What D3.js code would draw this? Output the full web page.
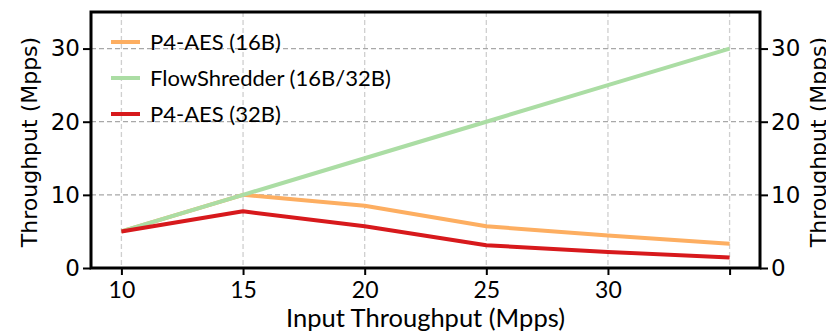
<!DOCTYPE html>
<html>
<head>
<meta charset="utf-8">
<script src="https://cdn.jsdelivr.net/npm/d3@7"></script>
<style>
  body { margin: 0; background: #fff; }
  svg { display: block; }
</style>
</head>
<body>
<div id="chart"></div>
<script>
// Throughput vs input throughput, three series

const inputRates = [10, 15, 20, 25, 30, 35];
const aes16 = [5, 10, 8.5, 5.7, 4.45, 3.3];
const flowShredder = [5, 10, 15, 20, 25, 30];
const aes32 = [5, 7.75, 5.7, 3.1, 2.2, 1.45];

const xTicks = [10, 15, 20, 25, 30, 35];
const xTickLabels = ["10", "15", "20", "25", "30", ""];
const yTicks = [0, 10, 20, 30];

const seriesNames = ["P4-AES (16B)", "FlowShredder (16B/32B)", "P4-AES (32B)"];
const seriesColors = ["#fdae61", "#abdda4", "#d7191c"];

const [w, h] = [826, 336];
const [padL, padR, padT, padB] = [91, 760, 12, 268];

const gillFont = "Lato, 'Open Sans', sans-serif";
const dejaFont = "'DejaVu Sans', sans-serif";

const xScale = d3.scaleLinear().domain([8.75, 36.25]).range([padL, padR]);
const yScale = d3.scaleLinear().domain([0, 35]).range([padB, padT]);

const svg = d3.select("#chart").append("svg")
  .attr("width", w)
  .attr("height", h);

// grid
svg.append("g").selectAll("line")
  .data(xTicks).enter().append("line")
  .attr("x1", d => xScale(d)).attr("x2", d => xScale(d))
  .attr("y1", padT).attr("y2", padB)
  .attr("stroke", "#cfcfcf").attr("stroke-width", 1.3)
  .attr("stroke-dasharray", "5,3");

svg.append("g").selectAll("line")
  .data(yTicks.slice(1)).enter().append("line")
  .attr("x1", padL).attr("x2", padR)
  .attr("y1", d => yScale(d)).attr("y2", d => yScale(d))
  .attr("stroke", "#a8a8a8").attr("stroke-width", 1.3)
  .attr("stroke-dasharray", "5,3");

// lines
const series = [aes16, flowShredder, aes32];
const line = d3.line()
  .x((d, i) => xScale(inputRates[i]))
  .y(d => yScale(d));

series.forEach((s, k) => {
  svg.append("path")
    .datum(s)
    .attr("d", line)
    .attr("fill", "none")
    .attr("stroke", seriesColors[k])
    .attr("stroke-width", 4)
    .attr("stroke-linejoin", "round");
});

// axes
const xAxis = d3.axisBottom(xScale).tickValues(xTicks)
  .tickFormat((d, i) => xTickLabels[i]).tickSize(7).tickPadding(7);
const gx = svg.append("g")
  .attr("transform", `translate(0,${padB})`)
  .call(xAxis);
gx.selectAll("text").style("font-family", gillFont).style("font-size", "23px").attr("fill", "#000");

const yAxisL = d3.axisLeft(yScale).tickValues(yTicks).tickSize(8).tickPadding(3);
const gyl = svg.append("g")
  .attr("transform", `translate(${padL},0)`)
  .call(yAxisL);

const yAxisR = d3.axisRight(yScale).tickValues(yTicks).tickSize(8).tickPadding(3);
const gyr = svg.append("g")
  .attr("transform", `translate(${padR},0)`)
  .call(yAxisR);

[gyl, gyr].forEach(g => {
  g.selectAll("text").style("font-family", dejaFont).style("font-size", "23px").attr("fill", "#000");
});
[gx, gyl, gyr].forEach(g => {
  g.select(".domain").remove();
  g.selectAll("line").attr("stroke", "#000").attr("stroke-width", 2);
});

// frame
svg.append("rect")
  .attr("x", padL).attr("y", padT)
  .attr("width", padR - padL).attr("height", padB - padT)
  .attr("fill", "none").attr("stroke", "#000").attr("stroke-width", 3);

// axis titles
svg.append("text")
  .attr("x", (padL + padR) / 2)
  .attr("y", 327)
  .attr("text-anchor", "middle")
  .style("font-family", gillFont).style("font-size", "25.5px")
  .text("Input Throughput (Mpps)");

svg.append("text")
  .attr("transform", `translate(37,${(padT + padB) / 2 + 2}) rotate(-90)`)
  .attr("text-anchor", "middle")
  .style("font-family", dejaFont).style("font-size", "22px")
  .text("Throughput (Mpps)");

svg.append("text")
  .attr("transform", `translate(826,${(padT + padB) / 2 + 2}) rotate(-90)`)
  .attr("text-anchor", "middle")
  .style("font-family", dejaFont).style("font-size", "22px")
  .text("Throughput (Mpps)");

// legend
const legend = svg.append("g");
seriesNames.forEach((name, k) => {
  const ly = 42 + k * 36;
  legend.append("line")
    .attr("x1", 111).attr("x2", 140)
    .attr("y1", ly).attr("y2", ly)
    .attr("stroke", seriesColors[k]).attr("stroke-width", 4);
  legend.append("text")
    .attr("x", 150).attr("y", ly + 8)
    .style("font-family", gillFont).style("font-size", "22px")
    .text(name);
});
</script>
</body>
</html>
